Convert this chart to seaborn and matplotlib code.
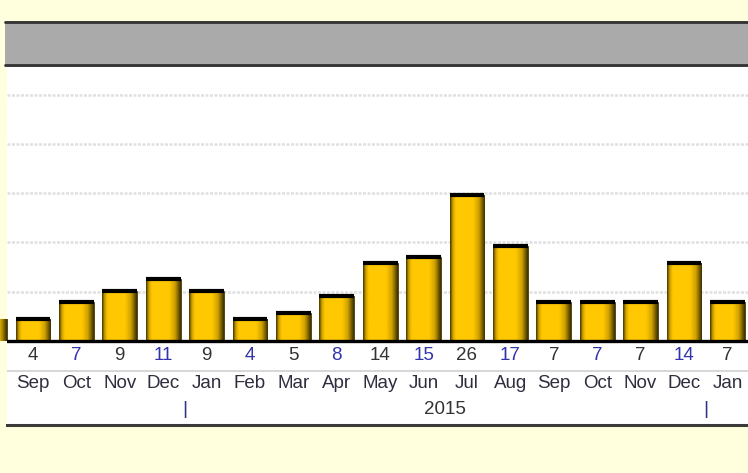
import matplotlib
matplotlib.use('Agg')
import matplotlib.pyplot as plt
import matplotlib.colors as mcolors
import matplotlib.transforms as mtransforms
from matplotlib.lines import Line2D
from matplotlib.patches import Rectangle
import numpy as np
import pandas as pd
import seaborn as sns

# monthly counts, Aug 2014 .. Jan 2016 (first and last bars are cut off by the scroll window)
months = ['Aug', 'Sep', 'Oct', 'Nov', 'Dec', 'Jan', 'Feb', 'Mar', 'Apr', 'May',
          'Jun', 'Jul', 'Aug', 'Sep', 'Oct', 'Nov', 'Dec', 'Jan']
years = [2014] * 5 + [2015] * 12 + [2016]
counts = [4, 4, 7, 9, 11, 9, 4, 5, 8, 14, 15, 26, 17, 7, 7, 7, 14, 7]
shown_year = 2015

df = pd.DataFrame({'period': [f'{y}-{m}' for y, m in zip(years, months)],
                   'count': counts})

W, H = 748, 473
BG = '#FFFFDD'
sns.set_style('white')
plt.rcParams['font.family'] = ['Liberation Sans', 'DejaVu Sans']

fig = plt.figure(figsize=(W / 100, H / 100), dpi=100, facecolor=BG)

# header bar
fig.add_artist(Rectangle((5 / W, 1 - 67 / H), 1, 46 / H, transform=fig.transFigure,
                         facecolor='#AAAAAA', edgecolor='none'))
for yy in (22, 65.5):
    fig.add_artist(Line2D([5 / W, 1], [1 - yy / H] * 2, transform=fig.transFigure,
                          color='#333333', lw=2))

ax_left, ax_top, ax_bot = 7, 67, 424.5
ax = fig.add_axes([ax_left / W, 1 - ax_bot / H, 1 - ax_left / W, (ax_bot - ax_top) / H])
ax.set_facecolor('white')

sns.barplot(data=df, x='period', y='count', color='#FFC800', width=0.8,
            errorbar=None, edgecolor='#3d3000', linewidth=0.6, ax=ax, zorder=3)

# cylinder-like shading on each bar
cmap = mcolors.LinearSegmentedColormap.from_list(
    'gold', [(0, '#4a3a00'), (0.07, '#c99c00'), (0.16, '#FFC800'),
             (0.66, '#FFC800'), (0.83, '#d0a200'), (1, '#3f3200')])
grad = np.linspace(0, 1, 64).reshape(1, -1)
for p in list(ax.patches):
    x0, y0 = p.get_x(), p.get_y()
    x1, y1 = x0 + p.get_width(), y0 + p.get_height()
    im = ax.imshow(grad, extent=[x0, x1, y0, y1], aspect='auto', cmap=cmap,
                   zorder=3.1, interpolation='bilinear')
    im.set_clip_path(p)
    ax.plot([x0, x1], [y1, y1], color='black', lw=3, zorder=3.2,
            solid_capstyle='butt')

px = 5.6  # pixels per unit
ax.set_ylim(-(ax_bot - 341) / px, (341 - ax_top) / px)
ax.set_xlim(1 - (33 - ax_left) / 43.4, 1 + (W - 33) / 43.4)

# dotted grid
for k in range(1, 6):
    ax.axhline(8.8 * k, color='#E0E0E0', lw=1.8, ls=(0, (1.2, 0.6)), zorder=1)

tr = mtransforms.blended_transform_factory(ax.transData, ax.transAxes)
ax.axhline(0, color='black', lw=2.4, zorder=4)
ax.plot([0, 1], [0.151, 0.151], transform=ax.transAxes, color='#D0D0D0', lw=1.2)

for i, (m, v) in enumerate(zip(months, counts)):
    ax.text(i, 0.193, str(v), transform=tr, ha='center', va='center', fontsize=13.5,
            color='#333333' if i % 2 else '#3333AA', clip_on=True)
    ax.text(i, 0.115, m, transform=tr, ha='center', va='center', fontsize=13.5,
            color='#2e2e3e', clip_on=True)

# year separators and year label
for i in range(1, len(years)):
    if years[i] != years[i - 1]:
        ax.text(i - 0.5, 0.042, '|', transform=tr, ha='center', va='center',
                fontsize=14, color='#333388', clip_on=True)
idx = [i for i, y in enumerate(years) if y == shown_year]
ax.text(np.mean(idx), 0.042, str(shown_year), transform=tr, ha='center',
        va='center', fontsize=13.5, color='#333333')

ax.set_xlabel('')
ax.set_ylabel('')
ax.set_xticks([])
ax.set_yticks([])
for s in ('top', 'left', 'right'):
    ax.spines[s].set_visible(False)
ax.spines['bottom'].set_color('#3a3a3a')
ax.spines['bottom'].set_linewidth(2.2)

fig.savefig('out.png', dpi=100, facecolor=BG)
